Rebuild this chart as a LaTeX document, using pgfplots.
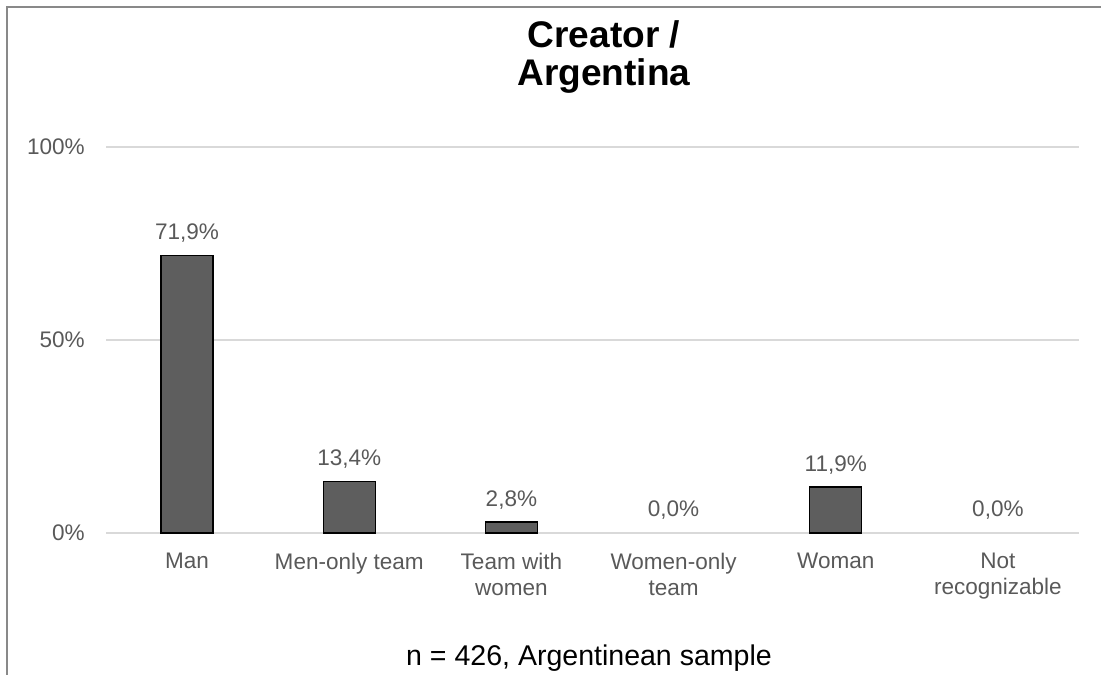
\documentclass[border=0pt]{standalone}
\usepackage{pgfplots}
\pgfplotsset{compat=1.18}
\usepackage{fontspec}
\setmainfont{Liberation Sans}
\definecolor{txtgray}{HTML}{595959}
\definecolor{gridgray}{HTML}{D9D9D9}
\definecolor{barfill}{HTML}{5E5E5E}
\definecolor{framegray}{HTML}{898989}
\begin{document}
\begin{tikzpicture}
\path[use as bounding box] (0,0) rectangle (825.75pt,506.25pt);
\draw[framegray, line width=1.6pt] (5.5pt,0) -- (5.5pt,500.8pt) -- (830pt,500.8pt);
\begin{axis}[
  at={(79.5pt,106.5pt)}, anchor=south west,
  scale only axis, width=729.75pt, height=289.5pt,
  xmin=-0.5, xmax=5.5, ymin=0, ymax=100,
  enlargelimits=false, clip=false,
  axis line style={draw=none},
  major tick length=0pt,
  ymajorgrids, grid style={gridgray, line width=1.1pt},
  ytick={0,50,100}, yticklabels={0\%,50\%,100\%},
  yticklabel style={font=\fontsize{16.9}{19.5}\selectfont, text=txtgray, anchor=east, inner sep=0pt, xshift=-15.75pt},
  xtick={0,1,2,3,4,5},
  xticklabels={Man, Men-only team, {Team with\\women}, {Women-only\\team}, Woman, {Not\\recognizable}},
  xticklabel style={font=\fontsize{16.9}{19.5}\selectfont, text=txtgray, align=center, anchor=north, inner sep=0pt, yshift=-15pt},
  ybar, bar width=39pt, bar shift=0pt,
  nodes near coords={\pgfmathprintnumber[fixed,fixed zerofill,precision=1,use comma,assume math mode=true]{\pgfplotspointmeta}\%},
  every node near coord/.append style={font=\fontsize{16.9}{19.5}\selectfont, text=txtgray, anchor=base, inner sep=0pt, yshift=12pt},
]
\addplot[fill=barfill, draw=black, line width=1.1pt] coordinates {(0,71.9) (1,13.4) (2,2.8) (4,11.9)};
\addplot[draw=none, fill=none] coordinates {(3,0.0) (5,0.0)};
\end{axis}
\node[font=\fontsize{27.8}{28}\selectfont\bfseries, anchor=base] at (453pt,470.25pt) {Creator /};
\node[font=\fontsize{27.8}{28}\selectfont\bfseries, anchor=base] at (453pt,441.75pt) {Argentina};
\node[font=\fontsize{21.4}{24}\selectfont, anchor=base] at (441.75pt,6.75pt) {n = 426, Argentinean sample};
\end{tikzpicture}
\end{document}
